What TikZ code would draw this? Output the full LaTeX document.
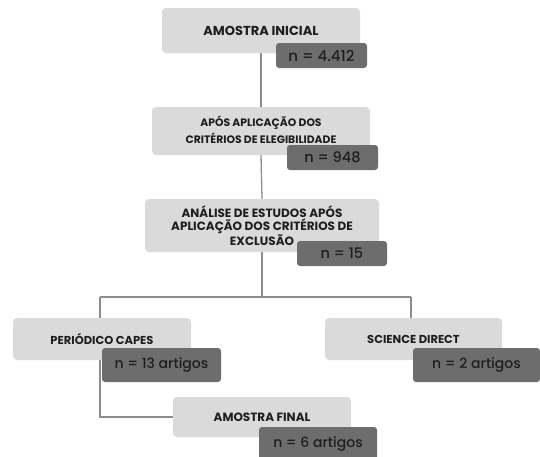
\documentclass[tikz,border=0pt]{standalone}
\usepackage{fontspec}
\setmainfont{Poppins}
\newfontfamily\pmed{Poppins Medium}
\usetikzlibrary{backgrounds}
\definecolor{lightbox}{HTML}{DADADA}
\definecolor{darkbox}{HTML}{6D6D6D}
\definecolor{txt}{HTML}{1E1E1E}
\definecolor{linec}{HTML}{8C8C8C}
\tikzset{
  lbox/.style={fill=lightbox, rounded corners=4pt, inner sep=0pt, text=txt, align=center,
    font=\fontsize{#1}{13.5}\selectfont\bfseries},
  dbox/.style={fill=darkbox, rounded corners=3pt, inner sep=0pt, text=txt,
    font=\pmed\fontsize{#1}{16}\selectfont},
  conn/.style={draw=linec, line width=1.3pt},
}
\begin{document}
\begin{tikzpicture}[x=1pt,y=-1pt]
\useasboundingbox (0,0) rectangle (540,456);
% light boxes
\node[lbox=13, minimum width=198pt, minimum height=45pt] (b1) at (261,30.5) {AMOSTRA INICIAL};
\node[lbox=10.8, minimum width=218pt, minimum height=48pt] (b2) at (261,131) {\raisebox{3pt}{\shortstack{APÓS APLICAÇÃO DOS\\[1pt]CRITÉRIOS DE ELEGIBILIDADE}}};
\node[lbox=12, minimum width=234pt, minimum height=53pt] (b3) at (262,225.5) {ANÁLISE DE ESTUDOS APÓS\\APLICAÇÃO DOS CRITÉRIOS DE\\EXCLUSÃO};
\node[lbox=11.5, minimum width=178pt, minimum height=42pt] (cap) at (102,339) {PERIÓDICO CAPES};
\node[lbox=11.5, minimum width=177pt, minimum height=42pt] (sd) at (413.5,339) {SCIENCE DIRECT};
\node[lbox=12, minimum width=178pt, minimum height=40pt] (fin) at (262,417) {AMOSTRA FINAL};
% dark boxes
\node[dbox=15, minimum width=91pt, minimum height=25pt] (n1) at (321.5,55.5) {n = 4.412};
\node[dbox=14.5, minimum width=91pt, minimum height=25pt] (n2) at (332.5,157.5) {n = 948};
\node[dbox=14.5, minimum width=90pt, minimum height=25pt] (n3) at (342,253.5) {n = 15};
\node[dbox=14, minimum width=119pt, minimum height=34pt] (n4) at (161.5,365) {n = 13 artigos};
\node[dbox=14, minimum width=127pt, minimum height=34pt] (n5) at (476.5,365) {n = 2 artigos};
\node[dbox=14, minimum width=118pt, minimum height=34pt] (n6) at (318,444) {n = 6 artigos};
% connectors
\coordinate (hl) at (100,297);
\coordinate (hr) at (411,297);
\begin{scope}[on background layer]
\draw[conn] (b1.south) -- (b2.north);
\draw[conn] (b2.south) -- (b3.north);
\draw[conn] (b3.south) -- (b3.south |- hl);
\draw[conn] (hl) -- (hr);
\draw[conn] (hl) -- (hl |- cap.north);
\draw[conn] (hr) -- (hr |- sd.north);
\draw[conn] (hl |- cap.south) |- (fin.west);
\end{scope}
\end{tikzpicture}
\end{document}
